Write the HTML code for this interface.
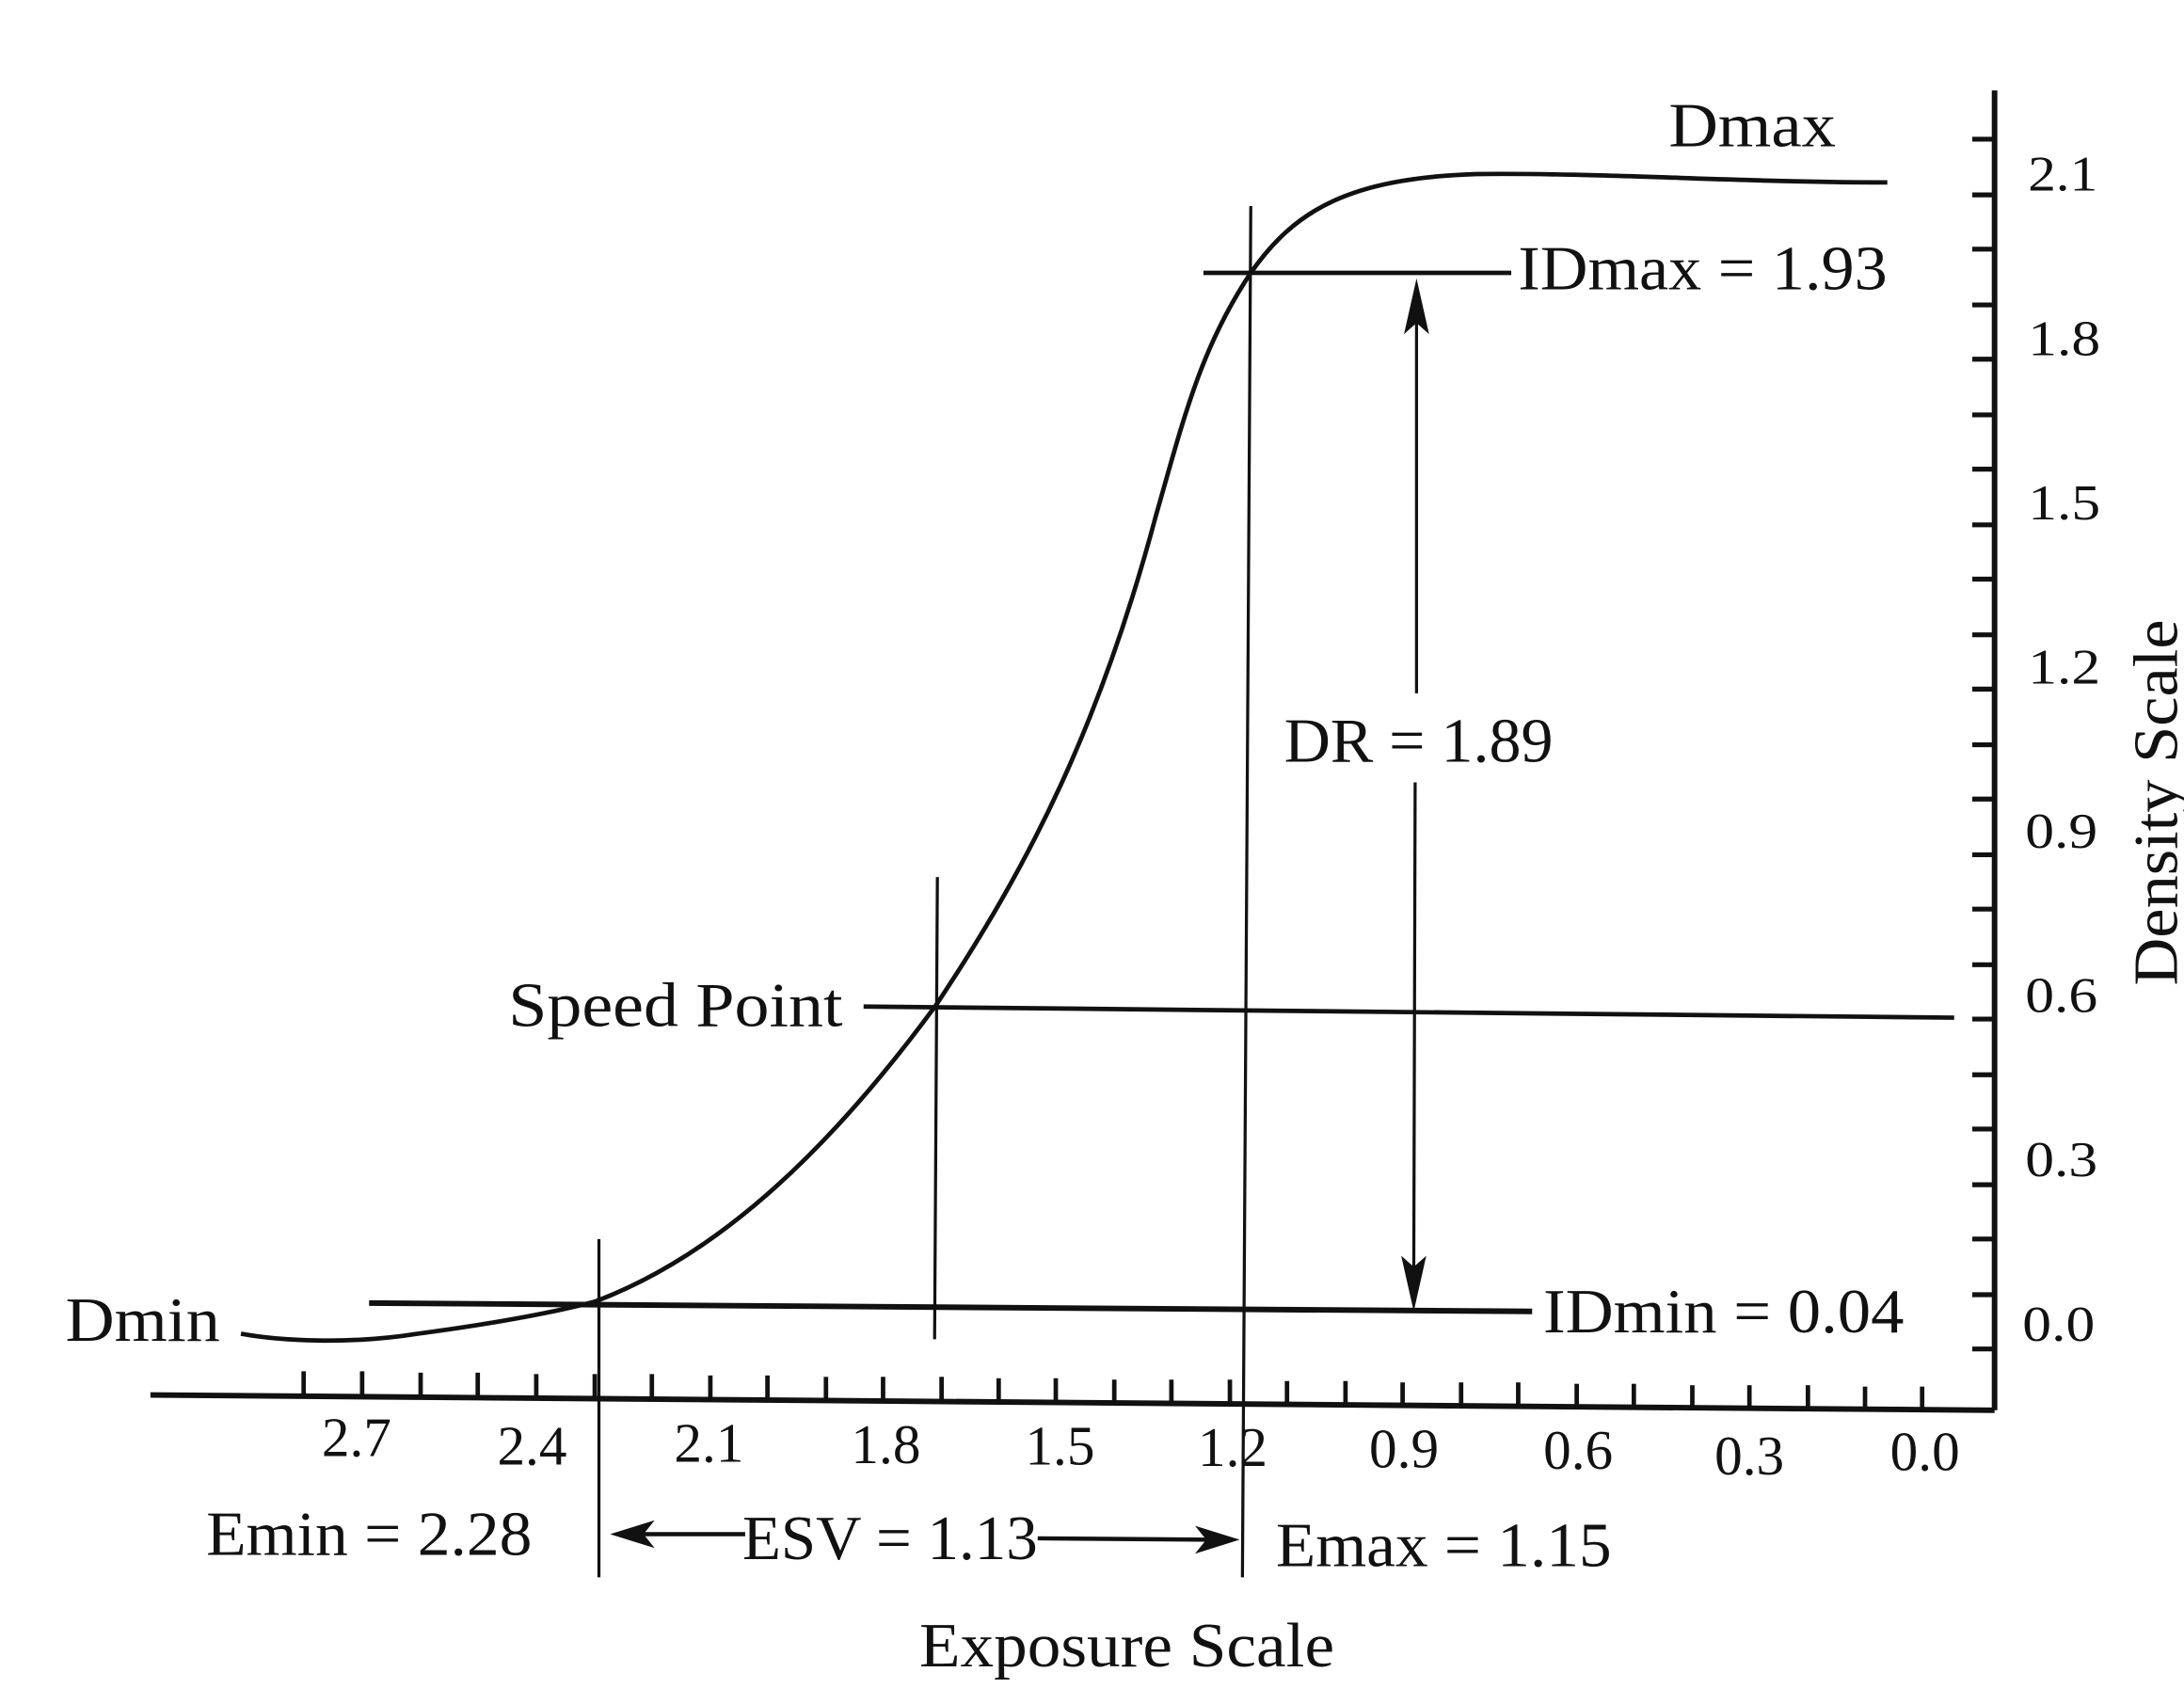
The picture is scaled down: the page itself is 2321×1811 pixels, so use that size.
<!DOCTYPE html>
<html><head><meta charset="utf-8"><style>html,body{margin:0;padding:0;background:#fff}svg{display:block}</style></head>
<body>
<svg width="2321" height="1811" viewBox="0 0 1568 1224" preserveAspectRatio="none" xmlns="http://www.w3.org/2000/svg" font-family="'Liberation Serif',serif" fill="#111">
<rect width="1568" height="1224" fill="#fff"/>
<g stroke="#111" fill="none" stroke-width="2.5">
<path d="M173,958 C200,963 250,966 300,958 C360,950 400,942 427,935 C520,900 600,820 672,722 C740,620 790,520 830,370 C850,300 862,250 898,196 C930,150 970,128 1060,125 C1150,124 1250,131 1355,131" stroke-width="3.2"/>
<line x1="108" y1="1002" x2="1432" y2="1013" stroke-width="4"/>
<line x1="1432" y1="65" x2="1432" y2="1013" stroke-width="4"/>
<line x1="265" y1="936" x2="1100" y2="942" stroke-width="4"/>
<line x1="620" y1="723" x2="1403" y2="731" stroke-width="3.2"/>
<line x1="864" y1="196" x2="1085" y2="196" stroke-width="3.2"/>
<line x1="430" y1="890" x2="430" y2="1133" stroke-width="2.2"/>
<line x1="673" y1="630" x2="671" y2="962" stroke-width="2.2"/>
<line x1="898" y1="148" x2="892" y2="1133" stroke-width="2.2"/>
<line x1="1017" y1="215" x2="1017" y2="498" stroke-width="2.2"/>
<line x1="1016" y1="562" x2="1015" y2="920" stroke-width="2.2"/>
<line x1="452" y1="1102" x2="535" y2="1102" stroke-width="3"/>
<line x1="745" y1="1105" x2="872" y2="1106" stroke-width="3"/>
</g>
<polygon points="1017,200 1008,240 1017,232 1026,240"/>
<polygon points="1015,942 1006,902 1015,910 1024,902"/>
<polygon points="438,1102 470,1092 462,1102 470,1112"/>
<polygon points="890,1106 858,1096 866,1106 858,1116"/>
<g stroke="#111" stroke-width="3.2">
<line x1="218" y1="985" x2="218" y2="1002"/><line x1="260" y1="985" x2="260" y2="1002"/><line x1="302" y1="986" x2="302" y2="1003"/><line x1="343" y1="986" x2="343" y2="1003"/><line x1="385" y1="987" x2="385" y2="1004"/><line x1="427" y1="987" x2="427" y2="1004"/><line x1="468" y1="987" x2="468" y2="1004"/><line x1="510" y1="988" x2="510" y2="1005"/><line x1="551" y1="988" x2="551" y2="1005"/><line x1="593" y1="989" x2="593" y2="1006"/><line x1="634" y1="989" x2="634" y2="1006"/><line x1="676" y1="989" x2="676" y2="1006"/><line x1="717" y1="990" x2="717" y2="1007"/><line x1="758" y1="990" x2="758" y2="1007"/><line x1="800" y1="991" x2="800" y2="1008"/><line x1="841" y1="991" x2="841" y2="1008"/><line x1="883" y1="991" x2="883" y2="1008"/><line x1="924" y1="992" x2="924" y2="1009"/><line x1="966" y1="992" x2="966" y2="1009"/><line x1="1007" y1="993" x2="1007" y2="1010"/><line x1="1049" y1="993" x2="1049" y2="1010"/><line x1="1090" y1="993" x2="1090" y2="1010"/><line x1="1132" y1="994" x2="1132" y2="1011"/><line x1="1173" y1="994" x2="1173" y2="1011"/><line x1="1215" y1="995" x2="1215" y2="1012"/><line x1="1256" y1="995" x2="1256" y2="1012"/><line x1="1298" y1="995" x2="1298" y2="1012"/><line x1="1339" y1="996" x2="1339" y2="1013"/><line x1="1380" y1="996" x2="1380" y2="1013"/>
</g>
<g stroke="#111" stroke-width="3.5">
<line x1="1416" y1="100" x2="1432" y2="100"/><line x1="1416" y1="140" x2="1432" y2="140"/><line x1="1416" y1="179" x2="1432" y2="179"/><line x1="1416" y1="219" x2="1432" y2="219"/><line x1="1416" y1="258" x2="1432" y2="258"/><line x1="1416" y1="298" x2="1432" y2="298"/><line x1="1416" y1="337" x2="1432" y2="337"/><line x1="1416" y1="377" x2="1432" y2="377"/><line x1="1416" y1="416" x2="1432" y2="416"/><line x1="1416" y1="456" x2="1432" y2="456"/><line x1="1416" y1="495" x2="1432" y2="495"/><line x1="1416" y1="535" x2="1432" y2="535"/><line x1="1416" y1="574" x2="1432" y2="574"/><line x1="1416" y1="614" x2="1432" y2="614"/><line x1="1416" y1="653" x2="1432" y2="653"/><line x1="1416" y1="693" x2="1432" y2="693"/><line x1="1416" y1="732" x2="1432" y2="732"/><line x1="1416" y1="772" x2="1432" y2="772"/><line x1="1416" y1="811" x2="1432" y2="811"/><line x1="1416" y1="851" x2="1432" y2="851"/><line x1="1416" y1="890" x2="1432" y2="890"/><line x1="1416" y1="930" x2="1432" y2="930"/><line x1="1416" y1="969" x2="1432" y2="969"/>
</g>
<g font-size="36">
<text x="1456" y="137" textLength="50" lengthAdjust="spacingAndGlyphs">2.1</text><text x="1456" y="255" textLength="52" lengthAdjust="spacingAndGlyphs">1.8</text><text x="1456" y="373" textLength="52" lengthAdjust="spacingAndGlyphs">1.5</text><text x="1456" y="491" textLength="52" lengthAdjust="spacingAndGlyphs">1.2</text><text x="1454" y="609" textLength="52" lengthAdjust="spacingAndGlyphs">0.9</text><text x="1454" y="727" textLength="52" lengthAdjust="spacingAndGlyphs">0.6</text><text x="1454" y="845" textLength="52" lengthAdjust="spacingAndGlyphs">0.3</text><text x="1452" y="963" textLength="52" lengthAdjust="spacingAndGlyphs">0.0</text>
</g>
<g font-size="40" text-anchor="middle">
<text x="256" y="1046">2.7</text><text x="382" y="1052">2.4</text><text x="509" y="1050">2.1</text><text x="636" y="1051">1.8</text><text x="761" y="1052">1.5</text><text x="885" y="1053">1.2</text><text x="1008" y="1054">0.9</text><text x="1133" y="1055">0.6</text><text x="1256" y="1059">0.3</text><text x="1382" y="1056">0.0</text>
</g>
<g font-size="45" lengthAdjust="spacingAndGlyphs">
<text x="1198" y="105" textLength="120" lengthAdjust="spacingAndGlyphs">Dmax</text>
<text x="1090" y="208" textLength="265" lengthAdjust="spacingAndGlyphs">IDmax = 1.93</text>
<text x="922" y="547" textLength="193" lengthAdjust="spacingAndGlyphs">DR = 1.89</text>
<text x="365" y="737" textLength="240" lengthAdjust="spacingAndGlyphs">Speed Point</text>
<text x="47" y="963" textLength="111" lengthAdjust="spacingAndGlyphs">Dmin</text>
<text x="1108" y="957" textLength="259" lengthAdjust="spacingAndGlyphs">IDmin = 0.04</text>
<text x="148" y="1117" textLength="234" lengthAdjust="spacingAndGlyphs">Emin = 2.28</text>
<text x="533" y="1120" textLength="212" lengthAdjust="spacingAndGlyphs">ESV = 1.13</text>
<text x="916" y="1125" textLength="241" lengthAdjust="spacingAndGlyphs">Emax = 1.15</text>
<text x="660" y="1197" textLength="298" lengthAdjust="spacingAndGlyphs">Exposure Scale</text>
<text transform="translate(1563,708) rotate(-90)" textLength="263" lengthAdjust="spacingAndGlyphs">Density Scale</text>
</g>
</svg>
</body></html>
